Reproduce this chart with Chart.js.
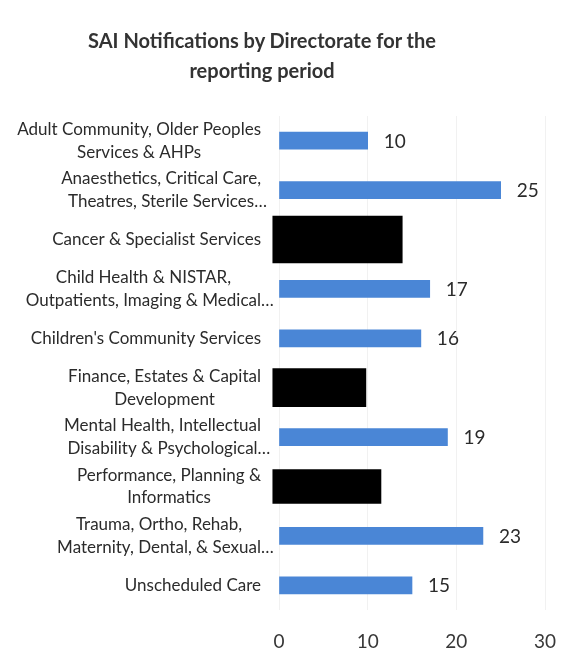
<!DOCTYPE html>
<html>
<head>
<meta charset="utf-8">
<script src="https://cdn.jsdelivr.net/npm/chart.js@4/dist/chart.umd.min.js"></script>
<style>
  html, body { margin: 0; padding: 0; background: #ffffff; }
  #wrap { position: relative; width: 580px; height: 670px; }
  #chart { position: absolute; left: 0; top: 0; }
  #title {
    position: absolute; left: 0; top: 25px; width: 524px;
    text-align: center; font: bold 20px Lato, "Open Sans", sans-serif;
    line-height: 30px; color: #333333;
  }
</style>
</head>
<body>
<div id="wrap">
  <canvas id="chart" width="580" height="670"></canvas>
  <div id="title">SAI Notifications by Directorate for the<br>reporting period</div>
</div>
<script>
// Directorates (multi-line labels as shown on the axis)
const directorates = [
  ['Adult Community, Older Peoples', 'Services & AHPs'],
  ['Anaesthetics, Critical Care,', 'Theatres, Sterile Services\u2026'],
  ['Cancer & Specialist Services'],
  ['Child Health & NISTAR,', 'Outpatients, Imaging & Medical\u2026'],
  ["Children's Community Services"],
  ['Finance, Estates & Capital', 'Development'],
  ['Mental Health, Intellectual', 'Disability & Psychological\u2026'],
  ['Performance, Planning &', 'Informatics'],
  ['Trauma, Ortho, Rehab,', 'Maternity, Dental, & Sexual\u2026'],
  ['Unscheduled Care']
];

// SAI notifications per directorate (null = withheld)
const notifications = [10, 25, null, 17, 16, null, 19, null, 23, 15];

// Withheld rows and the extent (in axis units) of the block covering them
const redactedRows = [2, 5, 7];
const redactionStart = -0.7;
const redactionEnds = [13.9, 9.8, 11.5];
const redactionHeights = [47, 38, 34];

const xTicks = [0, 10, 20, 30];

const BAR_BLUE = '#4a86d6';
const TEXT = '#2b2b2b';

function redactionData(k) {
  return directorates.map((_, i) => i === redactedRows[k] ? [redactionStart, redactionEnds[k]] : null);
}

const datasets = [{
  label: 'Notifications',
  data: notifications,
  backgroundColor: BAR_BLUE,
  borderWidth: 0,
  barThickness: 17,
  grouped: false
}];
redactedRows.forEach((row, k) => {
  datasets.push({
    label: 'Withheld',
    data: redactionData(k),
    backgroundColor: '#000000',
    borderWidth: 0,
    barThickness: redactionHeights[k],
    grouped: false,
    clip: false
  });
});

// Category labels: block right-aligned to the axis, lines centred within the block
const categoryLabels = {
  id: 'categoryLabels',
  afterDraw(chart) {
    const ctx = chart.ctx;
    const y = chart.scales.y;
    const right = 261;
    const lineH = 22.7;
    ctx.save();
    ctx.font = '17px Lato, "Open Sans", sans-serif';
    ctx.fillStyle = TEXT;
    ctx.textAlign = 'left';
    ctx.textBaseline = 'middle';
    directorates.forEach((lines, i) => {
      const cy = y.getPixelForTick(i);
      const core = lines.map(l => ctx.measureText(l.replace(/\u2026$/, '')).width);
      const blockW = Math.max(...core);
      const mid = right - blockW / 2;
      const top = cy - (lines.length - 1) * lineH / 2;
      lines.forEach((l, j) => {
        ctx.fillText(l, mid - core[j] / 2, top + j * lineH);
      });
    });
    ctx.restore();
  }
};

// Value labels at the end of each visible bar
const valueLabels = {
  id: 'valueLabels',
  afterDatasetsDraw(chart) {
    const ctx = chart.ctx;
    const meta = chart.getDatasetMeta(0);
    ctx.save();
    ctx.font = '19px Lato, "Open Sans", sans-serif';
    ctx.fillStyle = TEXT;
    ctx.textAlign = 'left';
    ctx.textBaseline = 'middle';
    meta.data.forEach((bar, i) => {
      const v = notifications[i];
      if (v === null) return;
      ctx.fillText(String(v), bar.x + 16, bar.y + 1);
    });
    ctx.restore();
  }
};

new Chart(document.getElementById('chart'), {
  type: 'bar',
  data: { labels: directorates, datasets },
  options: {
    indexAxis: 'y',
    responsive: false,
    animation: false,
    layout: { padding: { top: 116, right: 35, bottom: 15, left: 0 } },
    plugins: { legend: { display: false }, tooltip: { enabled: false }, title: { display: false } },
    scales: {
      x: {
        min: xTicks[0],
        max: xTicks[xTicks.length - 1],
        afterBuildTicks: s => { s.ticks = xTicks.map(v => ({ value: v })); },
        afterFit: s => { s.height = 45; },
        grid: { color: '#f1f1f1', drawTicks: false },
        border: { display: false },
        ticks: {
          padding: 20,
          color: '#383838',
          font: { family: 'Lato, "Open Sans", sans-serif', size: 19 }
        }
      },
      y: {
        grid: { display: false },
        border: { display: false },
        ticks: { display: false },
        afterFit: s => { s.width = 279; }
      }
    }
  },
  plugins: [categoryLabels, valueLabels]
});
</script>
</body>
</html>
